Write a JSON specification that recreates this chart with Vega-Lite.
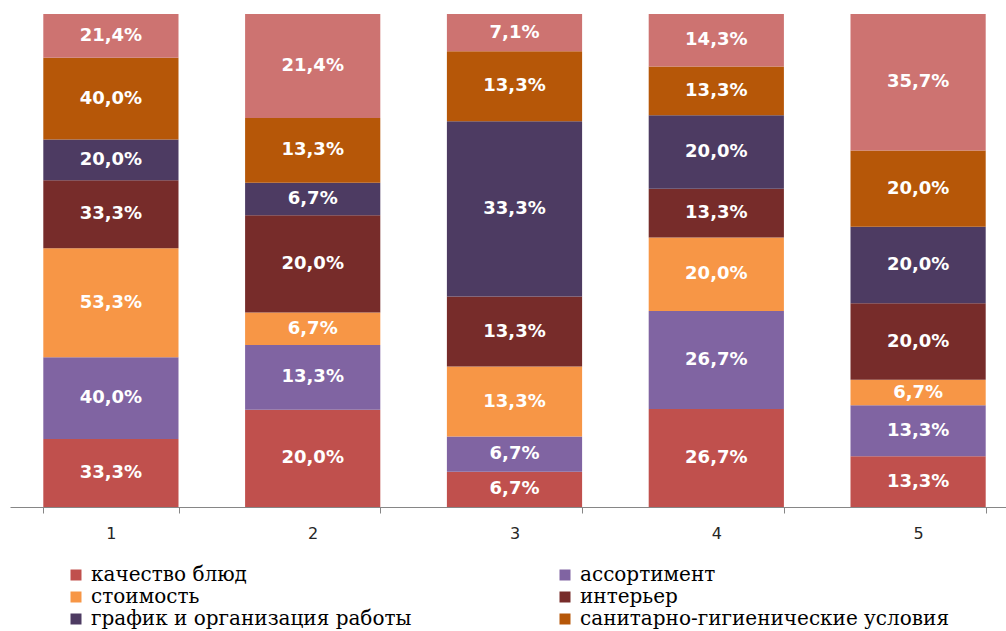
{
  "$schema": "https://vega.github.io/schema/vega-lite/v6.json",
  "width": 996,
  "height": 493,
  "autosize": {"type": "none"},
  "padding": {"left": 10, "top": 14, "right": 0, "bottom": 124},
  "background": "white",
  "data": {
    "values": [
      {"cat": "1", "series": "качество блюд", "order": 1, "value": 33.3, "label": "33,3%"},
      {"cat": "1", "series": "ассортимент", "order": 2, "value": 40.0, "label": "40,0%"},
      {"cat": "1", "series": "стоимость", "order": 3, "value": 53.3, "label": "53,3%"},
      {"cat": "1", "series": "интерьер", "order": 4, "value": 33.3, "label": "33,3%"},
      {"cat": "1", "series": "график и организация работы", "order": 5, "value": 20.0, "label": "20,0%"},
      {"cat": "1", "series": "санитарно-гигиенические условия", "order": 6, "value": 40.0, "label": "40,0%"},
      {"cat": "1", "series": "обслуживание", "order": 7, "value": 21.4, "label": "21,4%"},
      {"cat": "2", "series": "качество блюд", "order": 1, "value": 20.0, "label": "20,0%"},
      {"cat": "2", "series": "ассортимент", "order": 2, "value": 13.3, "label": "13,3%"},
      {"cat": "2", "series": "стоимость", "order": 3, "value": 6.7, "label": "6,7%"},
      {"cat": "2", "series": "интерьер", "order": 4, "value": 20.0, "label": "20,0%"},
      {"cat": "2", "series": "график и организация работы", "order": 5, "value": 6.7, "label": "6,7%"},
      {"cat": "2", "series": "санитарно-гигиенические условия", "order": 6, "value": 13.3, "label": "13,3%"},
      {"cat": "2", "series": "обслуживание", "order": 7, "value": 21.4, "label": "21,4%"},
      {"cat": "3", "series": "качество блюд", "order": 1, "value": 6.7, "label": "6,7%"},
      {"cat": "3", "series": "ассортимент", "order": 2, "value": 6.7, "label": "6,7%"},
      {"cat": "3", "series": "стоимость", "order": 3, "value": 13.3, "label": "13,3%"},
      {"cat": "3", "series": "интерьер", "order": 4, "value": 13.3, "label": "13,3%"},
      {"cat": "3", "series": "график и организация работы", "order": 5, "value": 33.3, "label": "33,3%"},
      {"cat": "3", "series": "санитарно-гигиенические условия", "order": 6, "value": 13.3, "label": "13,3%"},
      {"cat": "3", "series": "обслуживание", "order": 7, "value": 7.1, "label": "7,1%"},
      {"cat": "4", "series": "качество блюд", "order": 1, "value": 26.7, "label": "26,7%"},
      {"cat": "4", "series": "ассортимент", "order": 2, "value": 26.7, "label": "26,7%"},
      {"cat": "4", "series": "стоимость", "order": 3, "value": 20.0, "label": "20,0%"},
      {"cat": "4", "series": "интерьер", "order": 4, "value": 13.3, "label": "13,3%"},
      {"cat": "4", "series": "график и организация работы", "order": 5, "value": 20.0, "label": "20,0%"},
      {"cat": "4", "series": "санитарно-гигиенические условия", "order": 6, "value": 13.3, "label": "13,3%"},
      {"cat": "4", "series": "обслуживание", "order": 7, "value": 14.3, "label": "14,3%"},
      {"cat": "5", "series": "качество блюд", "order": 1, "value": 13.3, "label": "13,3%"},
      {"cat": "5", "series": "ассортимент", "order": 2, "value": 13.3, "label": "13,3%"},
      {"cat": "5", "series": "стоимость", "order": 3, "value": 6.7, "label": "6,7%"},
      {"cat": "5", "series": "интерьер", "order": 4, "value": 20.0, "label": "20,0%"},
      {"cat": "5", "series": "график и организация работы", "order": 5, "value": 20.0, "label": "20,0%"},
      {"cat": "5", "series": "санитарно-гигиенические условия", "order": 6, "value": 20.0, "label": "20,0%"},
      {"cat": "5", "series": "обслуживание", "order": 7, "value": 35.7, "label": "35,7%"}
    ]
  },
  "transform": [
    {"stack": "value", "groupby": ["cat"], "sort": [{"field": "order", "order": "ascending"}], "offset": "normalize", "as": ["y0", "y1"]}
  ],
  "layer": [
    {
      "mark": {"type": "bar"},
      "encoding": {
        "x": {
          "field": "cat", "type": "nominal", "sort": ["1", "2", "3", "4", "5"],
          "scale": {"range": [0, 1009], "paddingInner": 0.33, "paddingOuter": 0.165},
          "axis": {
            "title": null, "labelAngle": 0, "tickBand": "extent",
            "domainColor": "#868686", "tickColor": "#868686", "tickSize": 6,
            "labelFont": "DejaVu Sans", "labelFontSize": 16, "labelColor": "#262626",
            "labelPadding": 12
          }
        },
        "y": {"field": "y0", "type": "quantitative", "scale": {"domain": [0, 1]}, "axis": null},
        "y2": {"field": "y1"},
        "color": {
          "field": "series", "type": "nominal",
          "scale": {
            "domain": ["качество блюд", "ассортимент", "стоимость", "интерьер", "график и организация работы", "санитарно-гигиенические условия", "обслуживание"],
            "range": ["#C0504D", "#8064A2", "#F79646", "#772C2A", "#4D3B62", "#B65708", "#CD7371"]
          },
          "legend": {
            "title": null,
            "values": ["качество блюд", "ассортимент", "стоимость", "интерьер", "график и организация работы", "санитарно-гигиенические условия"],
            "orient": "none", "legendX": 56, "legendY": 551, "direction": "horizontal", "columns": 2,
            "columnPadding": 143, "rowPadding": 2, "padding": 0,
            "symbolType": "square", "symbolSize": 121, "symbolStrokeWidth": 0,
            "labelFont": "DejaVu Serif", "labelFontSize": 20, "labelColor": "#000000", "labelOffset": 5, "labelLimit": 600
          }
        }
      }
    },
    {
      "transform": [
        {"fold": ["y0", "y1"], "as": ["k", "v"]},
        {"aggregate": [{"op": "mean", "field": "v", "as": "mid"}], "groupby": ["cat", "series", "label"]}
      ],
      "mark": {"type": "text", "font": "DejaVu Sans", "fontWeight": "bold", "fontSize": 18, "fill": "white", "baseline": "middle", "align": "center"},
      "encoding": {
        "x": {"field": "cat", "type": "nominal", "sort": ["1", "2", "3", "4", "5"]},
        "y": {"field": "mid", "type": "quantitative"},
        "text": {"field": "label"}
      }
    }
  ],
  "config": {"view": {"stroke": null}, "axis": {"grid": false}}
}
